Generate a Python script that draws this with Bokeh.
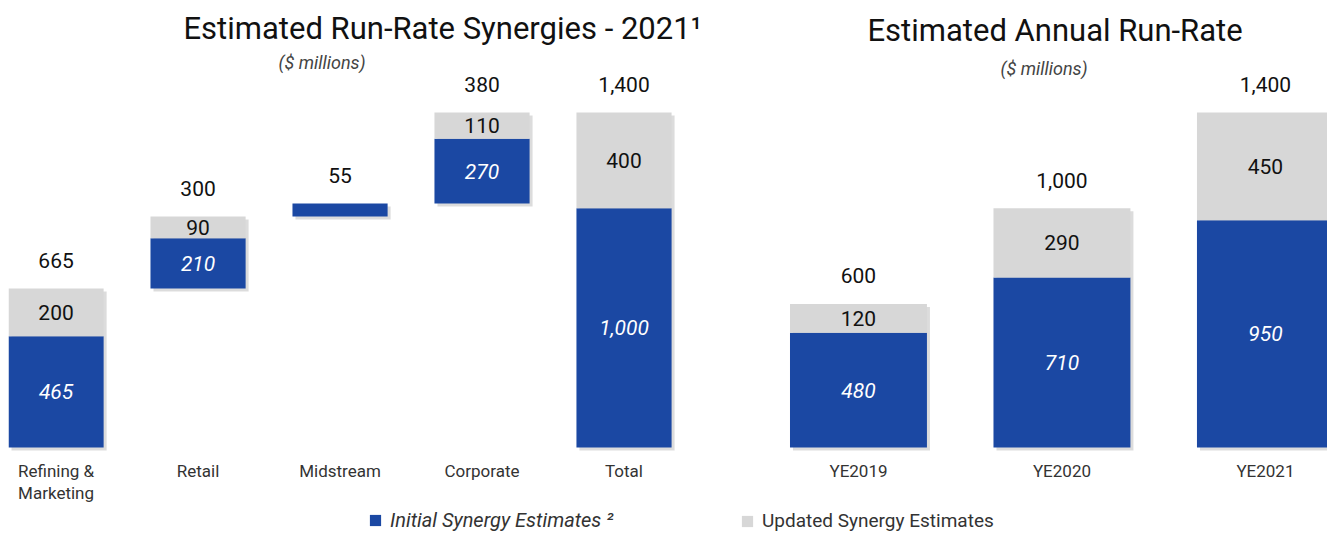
from bokeh.plotting import figure
from bokeh.layouts import row
from bokeh.models import (ColumnDataSource, Range1d, FixedTicker, Label, Legend, LegendItem)
from bokeh.embed import file_html
from bokeh.resources import INLINE
from bokeh.core.properties import value

# ---------------- data ----------------
seg_categories = ["Refining &\nMarketing", "Retail", "Midstream", "Corporate", "Total"]
seg_initial = [465, 210, 55, 270, 1000]
seg_updated = [200, 90, 0, 110, 400]
seg_is_total = [False, False, False, False, True]

year_categories = ["YE2019", "YE2020", "YE2021"]
year_initial = [480, 710, 950]
year_updated = [120, 290, 450]

BLUE = "#1b48a3"
GREY = "#d7d7d7"
FONT = "Roboto"

PX = 0.239286          # pixels per $ million
Y_START = -355.2
Y_END = 1868.1
H = 532


def fmt(v):
    return f"{v:,}"


def build_source(initial, updated, base, dx):
    xs = list(range(len(initial)))
    totals = [i + u for i, u in zip(initial, updated)]
    return ColumnDataSource(dict(
        x=xs,
        xs=[x + dx for x in xs],
        b0=base,
        bs=[b - 3 / PX for b in base],
        b1=[b + i for b, i in zip(base, initial)],
        b2=[b + t for b, t in zip(base, totals)],
        ts=[b + t - 3 / PX for b, t in zip(base, totals)],
        mid_i=[b + i / 2 for b, i in zip(base, initial)],
        mid_u=[b + i + u / 2 for b, i, u in zip(base, initial, updated)],
        lab_i=[fmt(i) if i >= 100 else "" for i in initial],
        lab_u=[fmt(u) if u > 0 else "" for u in updated],
        lab_t=[fmt(t) for t in totals],
    ))


def style(p, labels):
    p.xaxis.fixed_location = 0
    p.xaxis.ticker = FixedTicker(ticks=list(range(len(labels))))
    p.xaxis.major_label_overrides = {i: l for i, l in enumerate(labels)}
    p.xaxis.axis_line_color = None
    p.xaxis.major_tick_line_color = None
    p.xaxis.minor_tick_line_color = None
    p.xaxis.major_tick_out = 0
    p.xaxis.major_tick_in = 0
    p.xaxis.major_label_text_font = FONT
    p.xaxis.major_label_text_font_size = "17px"
    p.xaxis.major_label_text_color = "#333333"
    p.xaxis.major_label_text_line_height = 1.1
    p.xaxis.major_label_standoff = 13
    p.yaxis.visible = False
    p.xgrid.visible = False
    p.ygrid.visible = False
    p.outline_line_color = None
    p.min_border_left = 0
    p.min_border_right = 0
    p.min_border_top = 0
    p.min_border_bottom = 0


def draw(p, src, width):
    # soft drop shadow
    p.vbar(x="xs", bottom="bs", top="ts", width=width, source=src,
           fill_color="#9a9a9a", fill_alpha=0.35, line_color=None)
    r_i = p.vbar(x="x", bottom="b0", top="b1", width=width, source=src,
                 fill_color=BLUE, line_color=None)
    r_u = p.vbar(x="x", bottom="b1", top="b2", width=width, source=src,
                 fill_color=GREY, line_color=None)
    p.text(x="x", y="mid_i", text="lab_i", source=src, text_align="center",
           text_baseline="middle", text_color="white", text_font=value(FONT),
           text_font_size="21px", text_font_style="italic")
    p.text(x="x", y="mid_u", text="lab_u", source=src, text_align="center",
           text_baseline="middle", text_color="#111111", text_font=value(FONT),
           text_font_size="21px")
    p.text(x="x", y="b2", text="lab_t", source=src, text_align="center",
           text_baseline="middle", y_offset=-28, text_color="#111111",
           text_font=value(FONT), text_font_size="21px")
    return r_i, r_u


def titles(p, title, tx, ty, sx, sy):
    p.add_layout(Label(x=tx, y=ty, x_units="screen", y_units="screen", text=title,
                       text_font=FONT, text_font_size="31px", text_color="#111111",
                       text_align="left", text_baseline="middle"))
    p.add_layout(Label(x=sx, y=sy, x_units="screen", y_units="screen", text="($ millions)",
                       text_font=FONT, text_font_size="18px", text_font_style="italic",
                       text_color="#444444", text_align="left", text_baseline="middle"))


def legend(p, renderer, label, x, italic, size):
    lg = Legend(items=[LegendItem(label=label, renderers=[renderer])],
                location=(x, 0), border_line_color=None, background_fill_alpha=0,
                label_text_font=FONT, label_text_font_style="italic" if italic else "normal",
                label_text_font_size=size, label_text_color="#333333",
                glyph_width=14, glyph_height=14, label_standoff=8,
                padding=0, margin=0)
    p.add_layout(lg)


# ---------------- left panel: waterfall ----------------
base = []
running = 0
for ini, upd, tot in zip(seg_initial, seg_updated, seg_is_total):
    if tot:
        base.append(0)
    else:
        base.append(running)
        running += ini + upd

left_src = build_source(seg_initial, seg_updated, base, 3 / 142)

left = figure(width=708, height=H, output_backend="svg", toolbar_location=None, title=None,
              x_range=Range1d(-0.335, 4.595), y_range=Range1d(Y_START, Y_END))
style(left, seg_categories)
left.min_border_left = 8
li, lu = draw(left, left_src, 0.67)
titles(left, "Estimated Run-Rate Synergies - 2021\u00b9", 175, 504, 270, 470)
legend(left, li, "Initial Synergy Estimates \u00b2", 360, True, "20px")

# ---------------- right panel: annual run-rate ----------------
right_src = build_source(year_initial, year_updated, [0] * len(year_initial), 3 / 203.5)
right = figure(width=619, height=H, output_backend="svg", toolbar_location=None, title=None,
               x_range=Range1d(-0.737, 2.305), y_range=Range1d(Y_START, Y_END))
style(right, year_categories)
ri, ru = draw(right, right_src, 0.673)
titles(right, "Estimated Annual Run-Rate", 159, 502, 292, 464)
legend(right, ru, "Updated Synergy Estimates", 32, False, "19px")

layout = row(left, right)
open("out.html", "w").write(file_html(layout, INLINE))
